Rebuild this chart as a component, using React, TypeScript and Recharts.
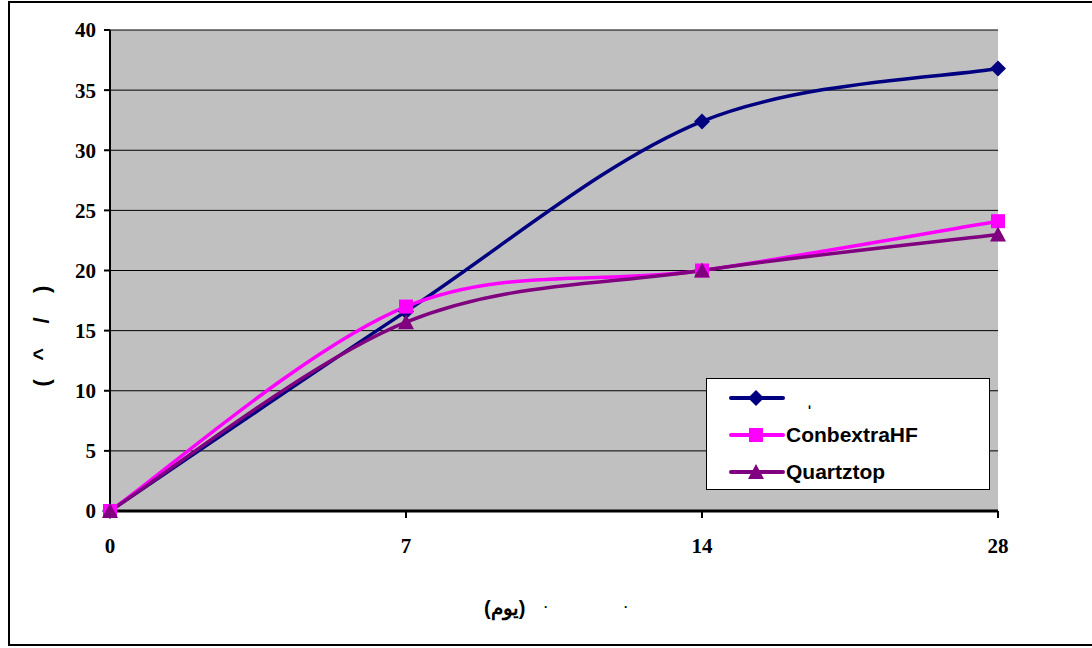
import { LineChart, Line, XAxis, YAxis, CartesianGrid } from 'recharts'

const DAYS = ['0', '7', '14', '28']
const SERIES_A = [0, 16.6, 32.4, 36.8]
const CONBEXTRA = [0, 17.0, 20.0, 24.1]
const QUARTZTOP = [0, 15.7, 20.0, 23.0]
const Y_TICKS = [0, 5, 10, 15, 20, 25, 30, 35, 40]
const SERIES_NAMES = ['ˌ', 'ConbextraHF', 'Quartztop']
const COLORS = ['#000080', '#FF00FF', '#800080']

const data = DAYS.map((d, i) => ({
  day: d,
  a: SERIES_A[i],
  b: CONBEXTRA[i],
  c: QUARTZTOP[i],
}))

// Excel-style smoothing: cardinal spline with 1/6 tangent factor
const excelSmooth = (context: any) => {
  let pts: [number, number][] = []
  return {
    areaStart() {},
    areaEnd() {},
    lineStart() {
      pts = []
    },
    point(x: number, y: number) {
      pts.push([+x, +y])
    },
    lineEnd() {
      if (!pts.length) return
      context.moveTo(pts[0][0], pts[0][1])
      for (let i = 0; i < pts.length - 1; i++) {
        const p0 = pts[Math.max(0, i - 1)]
        const p1 = pts[i]
        const p2 = pts[i + 1]
        const p3 = pts[Math.min(pts.length - 1, i + 2)]
        context.bezierCurveTo(
          p1[0] + (p2[0] - p0[0]) / 6,
          p1[1] + (p2[1] - p0[1]) / 6,
          p2[0] - (p3[0] - p1[0]) / 6,
          p2[1] - (p3[1] - p1[1]) / 6,
          p2[0],
          p2[1],
        )
      }
    },
  }
}

const Diamond = (props: any) => {
  const { cx, cy, fill } = props
  if (cx == null || cy == null) return null
  const r = 8
  return <polygon points={`${cx},${cy - r} ${cx + r},${cy} ${cx},${cy + r} ${cx - r},${cy}`} fill={fill} />
}

const Square = (props: any) => {
  const { cx, cy, fill } = props
  if (cx == null || cy == null) return null
  return <rect x={cx - 7} y={cy - 7} width={14} height={14} fill={fill} />
}

const Triangle = (props: any) => {
  const { cx, cy, fill } = props
  if (cx == null || cy == null) return null
  return <polygon points={`${cx},${cy - 8} ${cx + 8},${cy + 7} ${cx - 8},${cy + 7}`} fill={fill} />
}

const shapes = [Diamond, Square, Triangle]

const tickFont = { fill: '#000', fontSize: 21, fontWeight: 'bold', fontFamily: '"Times New Roman", "Liberation Serif", serif' }

function LegendBox() {
  return (
    <div
      style={{
        position: 'absolute',
        left: 706,
        top: 378,
        width: 284,
        height: 112,
        background: '#fff',
        border: '1px solid #000',
        boxSizing: 'border-box',
        fontFamily: 'Arial, "Liberation Sans", sans-serif',
        fontWeight: 'bold',
        fontSize: 21,
      }}
    >
      {SERIES_NAMES.map((name, i) => {
        const Shape = shapes[i]
        return (
          <div key={name} style={{ display: 'flex', alignItems: 'center', height: 37 }}>
            <svg width={58} height={20} style={{ marginLeft: 21 }}>
              <line x1={3} y1={10} x2={55} y2={10} stroke={COLORS[i]} strokeWidth={4} strokeLinecap="round" />
              <Shape cx={28} cy={10} fill={COLORS[i]} />
            </svg>
            <span style={{ color: '#000', marginLeft: i === 0 ? 20 : 0 }}>{name}</span>
          </div>
        )
      })}
    </div>
  )
}

export default function App() {
  return (
    <div style={{ position: 'fixed', left: 0, top: 0, width: 1092, height: 648, background: '#fff', overflow: 'hidden' }}>
      <div
        style={{
          position: 'absolute',
          left: 8,
          top: 1,
          width: 1100,
          height: 645,
          border: '2px solid #000',
          boxSizing: 'border-box',
        }}
      />
      <LineChart
        width={1092}
        height={648}
        data={data}
        margin={{ top: 30, right: 94, bottom: 97, left: 0 }}
        style={{ position: 'absolute', left: 0, top: 0 }}
      >
        <CartesianGrid vertical={false} fill="#C0C0C0" stroke="#000" strokeOpacity={1} />
        <XAxis
          dataKey="day"
          height={40}
          axisLine={{ stroke: '#000', strokeWidth: 3 }}
          tickLine={{ stroke: '#000', strokeWidth: 2 }}
          tickSize={7}
          tickMargin={20}
          tick={tickFont}
        />
        <YAxis
          width={110}
          domain={[0, 40]}
          ticks={Y_TICKS}
          interval={0}
          axisLine={{ stroke: '#000', strokeWidth: 2 }}
          tickLine={{ stroke: '#000', strokeWidth: 2 }}
          tickSize={6}
          tickMargin={8}
          tick={tickFont}
        />
        {(['a', 'b', 'c'] as const).map((key, i) => (
          <Line
            key={key}
            dataKey={key}
            name={SERIES_NAMES[i]}
            type={excelSmooth as any}
            stroke={COLORS[i]}
            strokeWidth={3.5}
            dot={shapes[i]}
            activeDot={false}
            fill={COLORS[i]}
            isAnimationActive={false}
          />
        ))}
      </LineChart>
      <LegendBox />
      <div
        style={{
          position: 'absolute',
          left: 42,
          top: 336,
          transform: 'translate(-50%, -50%) rotate(-90deg)',
          fontFamily: 'Arial, "Liberation Sans", sans-serif',
          fontWeight: 'bold',
          fontSize: 22,
          whiteSpace: 'pre',
        }}
      >
        {'(   ^    /    )'}
      </div>
      <div
        style={{
          position: 'absolute',
          left: 484,
          top: 596,
          fontFamily: 'Arial, "Liberation Sans", sans-serif',
          fontWeight: 'bold',
          fontSize: 20,
          whiteSpace: 'pre',
        }}
      >
        <span>(يوم)</span>
        <span style={{ position: 'absolute', left: 60, top: 4, fontSize: 12 }}>·</span>
        <span style={{ position: 'absolute', left: 140, top: 4, fontSize: 12 }}>·</span>
      </div>
    </div>
  )
}
